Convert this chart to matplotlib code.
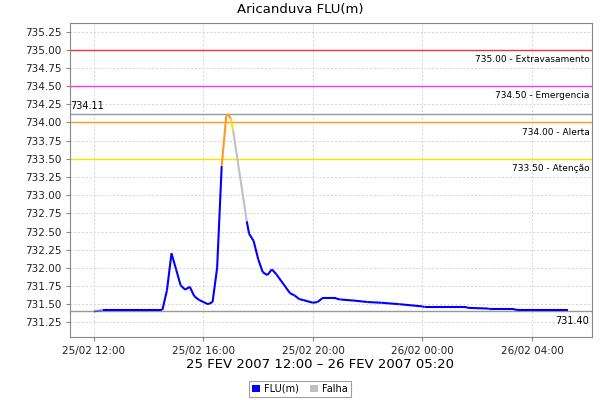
import matplotlib
matplotlib.use("Agg")
import matplotlib.pyplot as plt
import matplotlib.dates as mdates
from matplotlib.patches import Patch
import pandas as pd

# Leituras do posto (FLU em metros)
horas = ["25/02 12:00", "25/02 12:20", "25/02 14:30", "25/02 14:40", "25/02 14:50",
         "25/02 15:00", "25/02 15:10", "25/02 15:20", "25/02 15:30", "25/02 15:40",
         "25/02 15:50", "25/02 16:10", "25/02 16:20", "25/02 16:30", "25/02 16:40",
         "25/02 16:50", "25/02 16:55", "25/02 17:00", "25/02 17:05", "25/02 17:35",
         "25/02 17:40", "25/02 17:50", "25/02 18:00", "25/02 18:10", "25/02 18:20",
         "25/02 18:30", "25/02 18:40", "25/02 19:10", "25/02 19:20", "25/02 19:30",
         "25/02 19:40", "25/02 20:00", "25/02 20:10", "25/02 20:20", "25/02 20:50",
         "25/02 21:00", "25/02 21:30", "25/02 22:00", "25/02 22:30", "25/02 23:10",
         "26/02 00:00", "26/02 00:05", "26/02 01:35", "26/02 01:40", "26/02 02:25",
         "26/02 02:30", "26/02 03:20", "26/02 03:30", "26/02 05:20"]
flu = [731.40, 731.42, 731.42, 731.69, 732.20,
       731.98, 731.76, 731.70, 731.74, 731.61,
       731.56, 731.50, 731.53, 732.00, 733.40,
       734.09, 734.11, 734.05, 733.89, 732.64,
       732.47, 732.37, 732.12, 731.94, 731.90,
       731.98, 731.91, 731.65, 731.62, 731.57,
       731.555, 731.52, 731.53, 731.58, 731.58,
       731.565, 731.55, 731.53, 731.52, 731.50,
       731.47, 731.46, 731.46, 731.45, 731.44,
       731.43, 731.43, 731.42, 731.42]
# trechos sem leitura (indice do ponto inicial)
falhas = [18]

# cotas de alerta
cotas = [735.00, 734.50, 734.00, 733.50]
nomes = ["Extravasamento", "Emergencia", "Alerta", "Atenção"]
cores_cota = ["#ee3333", "#ff33ff", "#ff9922", "#ffdd00"]

tempo = pd.to_datetime(["2007/" + h for h in horas], format="%Y/%d/%m %H:%M")
x = mdates.date2num(tempo)

fig = plt.figure(figsize=(6, 4), dpi=100)
ax = fig.add_axes([0.117, 0.158, 0.870, 0.784])

def cor_trecho(i):
    if i in falhas:
        return "#c0c0c0"
    v = flu[i + 1]
    for c, cor in zip(cotas, cores_cota):
        if v >= c:
            return cor
    return "#0000ff"

for i in range(len(flu) - 1):
    alfa = 0.5 if i == 0 else 1
    ax.plot(x[i:i + 2], flu[i:i + 2], color=cor_trecho(i), lw=1.5,
            alpha=alfa, solid_capstyle="butt", zorder=3)

for c, n, cor in zip(cotas, nomes, cores_cota):
    ax.axhline(c, color=cor, lw=1, zorder=2)
    ax.annotate("%.2f - %s" % (c, n), xy=(1, c), xycoords=("axes fraction", "data"),
                xytext=(-2, -7), textcoords="offset points", ha="right", va="center",
                fontsize=6.5)

vmax = max(flu)
vmin = min(flu)
ax.axhline(vmax, color="#999999", lw=1, zorder=2)
ax.annotate("%.2f" % vmax, xy=(0, vmax), xycoords=("axes fraction", "data"),
            xytext=(0, 6), textcoords="offset points", ha="left", va="center", fontsize=7)
ax.axhline(vmin, color="#999999", lw=1, zorder=2)
ax.annotate("%.2f" % vmin, xy=(1, vmin), xycoords=("axes fraction", "data"),
            xytext=(-2, -7), textcoords="offset points", ha="right", va="center", fontsize=7)

margem = (x[-1] - x[0]) * 0.05
ax.set_xlim(x[0] - margem, x[-1] + margem)
ax.set_ylim(731.052, 735.365)
ax.set_yticks([731.25 + 0.25 * k for k in range(17)])
ax.yaxis.set_major_formatter(matplotlib.ticker.FormatStrFormatter("%.2f"))
ax.xaxis.set_major_locator(mdates.HourLocator(byhour=[0, 4, 8, 12, 16, 20]))
ax.xaxis.set_major_formatter(mdates.DateFormatter("%d/%m %H:%M"))

ax.grid(True, color="#d4d4d4", linestyle=(0, (2, 2)), lw=0.7)
ax.set_axisbelow(True)
for s in ax.spines.values():
    s.set_color("#888888")
ax.tick_params(labelsize=7.5, colors="#888888", labelcolor="#222222", length=3, width=0.8)

fig.text(0.5, 0.975, "Aricanduva FLU(m)", ha="center", va="center", fontsize=9.5)
fig.text(0.533, 0.088, "25 FEV 2007 12:00 – 26 FEV 2007 05:20", ha="center",
         va="center", fontsize=9.5)

alca = [Patch(facecolor="#0000ff", edgecolor="none", label="FLU(m)"),
        Patch(facecolor="#c0c0c0", edgecolor="none", label="Falha")]
leg = fig.legend(handles=alca, loc="center", bbox_to_anchor=(0.5, 0.028), ncol=2,
                 fontsize=7, frameon=True, fancybox=False, handlelength=0.8,
                 handleheight=0.8, handletextpad=0.4, columnspacing=1.2,
                 borderpad=0.3)
leg.get_frame().set_edgecolor("#888888")
leg.get_frame().set_linewidth(0.8)

fig.savefig("out.png", dpi=100)
